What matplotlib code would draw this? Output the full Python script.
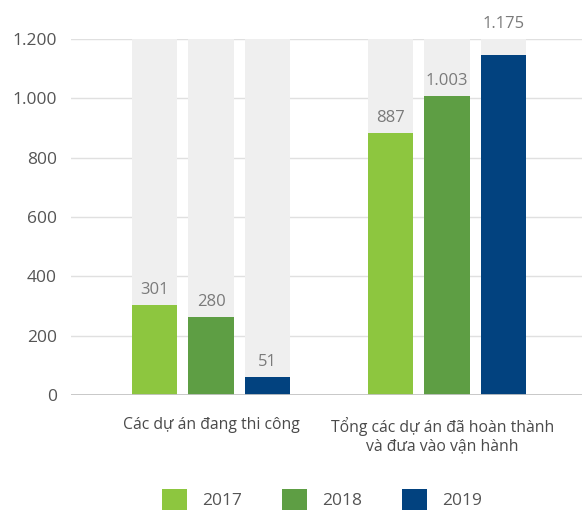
import numpy as np
import matplotlib
matplotlib.use("Agg")
from matplotlib import pyplot as plt
from matplotlib.patches import Patch

plt.rcParams['font.family'] = ['Open Sans', 'DejaVu Sans']

categories = ['Các dự án đang thi công', 'Tổng các dự án đã hoàn thành\nvà đưa vào vận hành']
years = ['2017', '2018', '2019']
# printed values
labels_2017 = ['301', '887']
labels_2018 = ['280', '1.003']
labels_2019 = ['51', '1.175']
# bar heights as drawn in the picture
values_2017 = [304, 883]
values_2018 = [263, 1008]
values_2019 = [61, 1146]
colors = ['#8DC63F', '#5E9E44', '#02427F']
ymax = 1200

fig = plt.figure(figsize=(5.82, 5.11), dpi=100)
ax = fig.add_axes([71 / 582, 116 / 511, 1 - 71 / 582, 356 / 511])

group_x = np.array([0.0, 4.18])
width = 0.8
series = [(values_2017, labels_2017), (values_2018, labels_2018), (values_2019, labels_2019)]

for i, (vals, labs) in enumerate(series):
    x = group_x + (i - 1)
    ax.bar(x, [ymax] * len(x), width=width, color='#efefef', zorder=2)
    ax.bar(x, vals, width=width, color=colors[i], zorder=3, label=years[i])
    for xi, v, t in zip(x, vals, labs):
        # label sits above the grey backdrop when the bar is near the top
        y = ymax if v > ymax - 100 else v
        ax.annotate(t, (xi, y), xytext=(0, 5), textcoords='offset points',
                    ha='center', va='bottom', fontsize=12, color='#7a7a7a',
                    annotation_clip=False)

ax.set_ylim(0, ymax)
ax.set_xlim(-2.48, 6.57)
ax.set_yticks(np.arange(0, 1201, 200))
ax.set_yticklabels([f'{v:,}'.replace(',', '.') for v in range(0, 1201, 200)])
ax.set_xticks(group_x - [0, 0.08])
ax.set_xticklabels(categories, fontsize=11.3, color='#4a4a4a', linespacing=1.15)
ax.tick_params(axis='y', length=0, pad=10, labelsize=12.5, labelcolor='#555555')
ax.tick_params(axis='x', length=0, pad=16)
ax.grid(axis='y', color='#e0e0e0', linewidth=1, zorder=0)
ax.axhline(0, color='#c4c4c4', linewidth=2, zorder=4)
for s in ax.spines.values():
    s.set_visible(False)

handles = [Patch(facecolor=c) for c in colors]
fig.legend(handles, years, loc='center', bbox_to_anchor=(0.553, 0.022), ncol=3,
           frameon=False, fontsize=12.5, handlelength=1.45, handleheight=1.5,
           handletextpad=0.85, columnspacing=2.3, labelcolor='#555555')

fig.savefig('out.png', dpi=100)
